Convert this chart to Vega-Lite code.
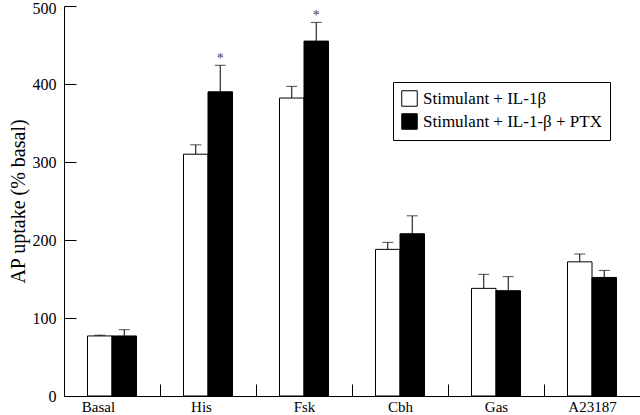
{
  "$schema": "https://vega.github.io/schema/vega-lite/v6.json",
  "autosize": {"type": "none"},
  "width": 576,
  "height": 390,
  "padding": {"left": 64, "top": 6, "right": 0, "bottom": 19},
  "background": "white",
  "config": {
    "view": {"stroke": null},
    "font": "Liberation Serif",
    "axis": {"domainColor": "black", "tickColor": "black", "labelColor": "black", "titleColor": "black", "labelFont": "Liberation Serif", "titleFont": "Liberation Serif", "grid": false, "domainWidth": 1, "tickWidth": 1}
  },
  "data": {
    "values": [
      {"cat": "Basal", "series": "Stimulant + IL-1β", "v": 77, "hi": 78, "sig": ""},
      {"cat": "Basal", "series": "Stimulant + IL-1-β + PTX", "v": 77, "hi": 85, "sig": ""},
      {"cat": "His", "series": "Stimulant + IL-1β", "v": 310, "hi": 322, "sig": ""},
      {"cat": "His", "series": "Stimulant + IL-1-β + PTX", "v": 390, "hi": 424, "sig": "*"},
      {"cat": "Fsk", "series": "Stimulant + IL-1β", "v": 382, "hi": 397, "sig": ""},
      {"cat": "Fsk", "series": "Stimulant + IL-1-β + PTX", "v": 455, "hi": 479, "sig": "*"},
      {"cat": "Cbh", "series": "Stimulant + IL-1β", "v": 188, "hi": 197, "sig": ""},
      {"cat": "Cbh", "series": "Stimulant + IL-1-β + PTX", "v": 208, "hi": 231, "sig": ""},
      {"cat": "Gas", "series": "Stimulant + IL-1β", "v": 138, "hi": 156, "sig": ""},
      {"cat": "Gas", "series": "Stimulant + IL-1-β + PTX", "v": 135, "hi": 153, "sig": ""},
      {"cat": "A23187", "series": "Stimulant + IL-1β", "v": 172, "hi": 182, "sig": ""},
      {"cat": "A23187", "series": "Stimulant + IL-1-β + PTX", "v": 152, "hi": 161, "sig": ""}
    ]
  },
  "encoding": {
    "x": {
      "field": "cat", "type": "nominal", "sort": null,
      "scale": {"paddingInner": 0, "paddingOuter": 0},
      "axis": {"title": null, "labelAngle": 0, "labelFontSize": 15, "tickBand": "extent", "tickSize": -12, "labelPadding": 15,
        "labelOffset": {"condition": [{"test": "datum.value == 'Basal'", "value": -14}, {"test": "datum.value == 'His'", "value": -7}], "value": 0}}
    },
    "xOffset": {
      "field": "series", "type": "nominal",
      "sort": ["Stimulant + IL-1β", "Stimulant + IL-1-β + PTX"],
      "scale": {"paddingInner": 0, "paddingOuter": 0.96}
    }
  },
  "layer": [
    {
      "mark": {"type": "rule", "color": "black", "strokeWidth": 1},
      "encoding": {
        "y": {"field": "v", "type": "quantitative"},
        "y2": {"field": "hi"}
      }
    },
    {
      "mark": {"type": "tick", "color": "black", "thickness": 1, "size": 11},
      "encoding": {
        "y": {"field": "hi", "type": "quantitative"}
      }
    },
    {
      "mark": {"type": "bar", "stroke": "black", "strokeWidth": 1},
      "encoding": {
        "y": {
          "field": "v", "type": "quantitative",
          "scale": {"domain": [0, 500], "nice": false},
          "axis": {"title": "AP uptake (% basal)", "titleFontSize": 20, "titleFontWeight": "normal", "labelFontSize": 16, "values": [0, 100, 200, 300, 400, 500], "tickSize": -12, "labelPadding": 20, "titlePadding": 4,
            "labelOffset": {"condition": {"test": "datum.value == 500", "value": 2}, "value": 0}}
        },
        "fill": {
          "field": "series", "type": "nominal",
          "sort": ["Stimulant + IL-1β", "Stimulant + IL-1-β + PTX"],
          "scale": {"domain": ["Stimulant + IL-1β", "Stimulant + IL-1-β + PTX"], "range": ["white", "black"]},
          "legend": {
            "title": null, "orient": "none", "legendX": 329, "legendY": 76,
            "symbolType": "square", "symbolSize": 240, "symbolStrokeColor": "black", "symbolStrokeWidth": 1,
            "labelFontSize": 17, "labelFont": "Liberation Serif", "labelColor": "black", "labelLimit": 400,
            "strokeColor": "black", "padding": 8, "fillColor": "white", "rowPadding": 2, "labelOffset": 5
          }
        }
      }
    },
    {
      "mark": {"type": "text", "fontSize": 14, "fill": "#444444", "baseline": "alphabetic", "dy": -2},
      "encoding": {
        "y": {"field": "hi", "type": "quantitative"},
        "text": {"field": "sig"}
      }
    }
  ]
}
